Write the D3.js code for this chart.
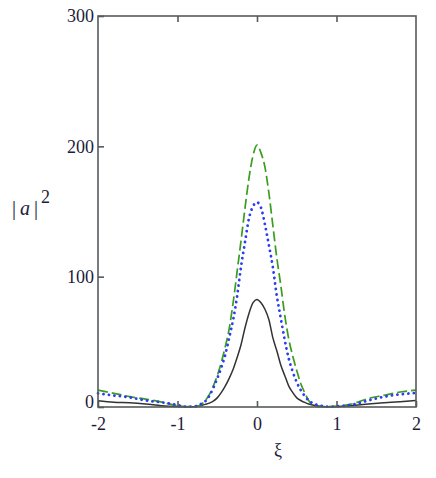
<!DOCTYPE html>
<meta charset="utf-8">
<style>
body { margin: 0; background: #fff; }
text { font-family: "Liberation Serif", "DejaVu Serif", serif; fill: #1c1c3a; }
.frame { fill: none; stroke: #555a5c; stroke-width: 1.6; }
.axis path { display: none; }
.axis line { stroke: #555a5c; stroke-width: 1.6; }
.axis text { font-size: 18px; }
</style>
<svg width="436" height="478"></svg>
<script src="https://d3js.org/d3.v7.min.js"></script>
<script>
"use strict";

// xi grid
var xi = [-2, -1.8, -1.6, -1.4, -1.2, -1.0, -0.9, -0.8,
  -0.7, -0.65, -0.6, -0.55, -0.5, -0.45, -0.4, -0.35, -0.3, -0.25, -0.2, -0.15, -0.1, -0.05,
  0, 0.05, 0.1, 0.15, 0.2, 0.25, 0.3, 0.35, 0.4, 0.45, 0.5, 0.55, 0.6, 0.65, 0.7,
  0.8, 0.9, 1.0, 1.2, 1.4, 1.6, 1.8, 2.0];

// |a|^2 values, green dashed curve
var greenVals = [13, 10.5, 8, 6, 3.8, 1, 0.3, 0.2,
  2, 5, 9.5, 16, 24, 34, 46, 60, 80, 104, 128, 153, 176, 193,
  201, 195, 184, 164, 139, 114, 93, 70, 52, 39, 28, 18, 11, 5, 1.5,
  0.2, 0.3, 0.6, 2.5, 6.5, 9, 11.5, 13];

// blue dotted curve
var blueVals = [10.5, 8.8, 7.4, 5, 3.6, 1.5, 0.3, 0.3,
  2.5, 4.5, 8.5, 14.5, 22, 30, 40, 53, 67, 85, 108, 127, 145, 154,
  157, 153, 140, 124, 107, 85, 68, 51, 37, 27, 19, 13, 8.5, 5, 3,
  1, 0.3, 0.5, 1.8, 5, 7.9, 9.7, 10.8];

// black solid curve
var blackVals = [4.8, 3.6, 3.2, 2.3, 1, 0.3, 0.1, 0.2,
  1.2, 2, 3, 4.5, 7, 11, 16, 22, 29, 38, 48, 61, 72, 80,
  82.5, 80, 75, 67, 53, 43, 32, 24, 16, 11, 7, 5, 3.5, 2.3, 1.5,
  0.5, 0.1, 0.3, 1.2, 2.3, 3.2, 4, 5];

var xTicks = [-2, -1, 0, 1, 2];
var yTicks = [0, 100, 200, 300];

var svg = d3.select("svg");
var pLeft = 98, pRight = 416, pTop = 16, pBottom = 407;

var x = d3.scaleLinear().domain([-2, 2]).range([pLeft, pRight]);
var y = d3.scaleLinear().domain([0, 300]).range([pBottom, pTop]);

var line = d3.line()
  .x(function(d) { return x(d[0]); })
  .y(function(d) { return y(d[1]); })
  .curve(d3.curveMonotoneX);

function pts(vals) {
  return xi.map(function(v, i) { return [v, vals[i]]; });
}

var plot = svg.append("g");

plot.append("path")
  .attr("d", line(pts(blackVals)))
  .attr("fill", "none")
  .attr("stroke", "#333")
  .attr("stroke-width", 1.5);

plot.append("path")
  .attr("d", line(pts(greenVals)))
  .attr("fill", "none")
  .attr("stroke", "#3a9d1e")
  .attr("stroke-width", 1.7)
  .attr("stroke-dasharray", "10 4");

plot.append("path")
  .attr("d", line(pts(blueVals)))
  .attr("fill", "none")
  .attr("stroke", "#2b3cf2")
  .attr("stroke-width", 2.8)
  .attr("stroke-linecap", "round")
  .attr("stroke-dasharray", "0.1 5.4");

// frame
svg.append("rect")
  .attr("class", "frame")
  .attr("x", pLeft).attr("y", pTop)
  .attr("width", pRight - pLeft).attr("height", pBottom - pTop);

// axes
svg.append("g")
  .attr("class", "axis")
  .attr("transform", "translate(0," + pBottom + ")")
  .call(d3.axisBottom(x).tickValues(xTicks).tickSize(-6).tickPadding(10)
    .tickFormat(function(d) { return String(d); }));

svg.append("g")
  .attr("class", "axis")
  .attr("transform", "translate(0," + pTop + ")")
  .call(d3.axisTop(x).tickValues([-1, 0, 1]).tickSize(-6).tickFormat(""));

var yAxis = svg.append("g")
  .attr("class", "axis")
  .attr("transform", "translate(" + pLeft + ",0)")
  .call(d3.axisLeft(y).tickValues(yTicks).tickSize(-6).tickPadding(4)
    .tickFormat(function(d) { return String(d); }));

// the 0 label sits a little above the axis
yAxis.selectAll(".tick text").filter(function(d) { return d === 0; })
  .attr("y", -5);

// axis titles
svg.append("text")
  .attr("x", 278).attr("y", 456)
  .attr("text-anchor", "middle")
  .style("font-size", "18px")
  .text("ξ");

var ylab = svg.append("g").style("font-size", "20px");
ylab.append("text").attr("x", 12).attr("y", 215).attr("fill", "#7a86a8").text("|");
ylab.append("text").attr("x", 20).attr("y", 215).style("font-style", "italic").text("a");
ylab.append("text").attr("x", 34).attr("y", 215).attr("fill", "#7a86a8").text("|");
ylab.append("text").attr("x", 41).attr("y", 203).style("font-size", "18px").text("2");
</script>
